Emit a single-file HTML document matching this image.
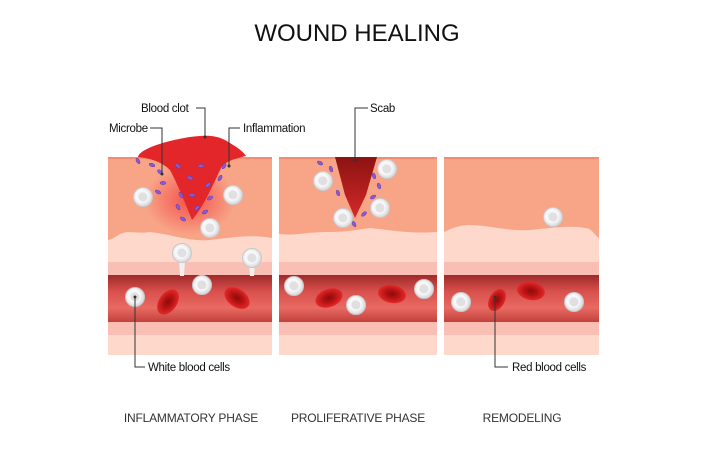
<!DOCTYPE html>
<html><head><meta charset="utf-8"><style>
body{margin:0;background:#fff}
svg{display:block;font-family:"Liberation Sans",sans-serif}
</style></head><body>
<svg width="720" height="450" viewBox="0 0 720 450" xmlns="http://www.w3.org/2000/svg">
<defs>
<linearGradient id="ves" x1="0" y1="0" x2="0" y2="1">
<stop offset="0" stop-color="#9e2a2a"/><stop offset="0.35" stop-color="#d9504c"/><stop offset="0.7" stop-color="#e86a62"/><stop offset="1" stop-color="#c2403c"/></linearGradient>
<radialGradient id="wbc" cx="0.45" cy="0.45" r="0.6"><stop offset="0" stop-color="#e4e4e6"/><stop offset="0.5" stop-color="#fafafa"/><stop offset="1" stop-color="#cfcfd2"/></radialGradient>
<radialGradient id="rbc"><stop offset="0" stop-color="#8e0a0a"/><stop offset="0.5" stop-color="#b81414"/><stop offset="1" stop-color="#e3282a"/></radialGradient>
<radialGradient id="inf" cx="0.5" cy="0.5" r="0.5"><stop offset="0" stop-color="#f23b3b" stop-opacity="0.8"/><stop offset="1" stop-color="#f23b3b" stop-opacity="0"/></radialGradient>
<linearGradient id="scab" x1="0" y1="0" x2="0" y2="1"><stop offset="0" stop-color="#8c1212"/><stop offset="1" stop-color="#d42a2a"/></linearGradient>
<clipPath id="c1"><rect x="108" y="157" width="164" height="198"/></clipPath>
<clipPath id="c2"><rect x="279" y="157" width="158" height="198"/></clipPath>
<clipPath id="c3"><rect x="444" y="157" width="155" height="198"/></clipPath>
<g id="wc"><circle r="9.5" fill="url(#wbc)" stroke="#c8c8cc" stroke-width="1"/><circle r="4.5" fill="#e0e0e3"/></g>
<g id="rc"><ellipse rx="14" ry="9" fill="url(#rbc)"/></g>
</defs>
<text x="357" y="41" text-anchor="middle" font-size="24" fill="#111">WOUND HEALING</text>

<g clip-path="url(#c1)">
<rect x="108" y="157" width="164" height="198" fill="#fdd8cb"/>
<rect x="108" y="262" width="164" height="13" fill="#f9bfb4"/>
<rect x="108" y="322" width="164" height="13" fill="#f9bfb4"/>
<rect x="108" y="275" width="164" height="47" fill="url(#ves)"/>
<path d="M108 157H272V238C250 234 230 238 210 240C190 242 170 234 150 232C135 234 130 230 120 234C114 238 110 240 108 240Z" fill="#f8a487"/>
<ellipse cx="190" cy="200" rx="45" ry="35" fill="url(#inf)"/>
<rect x="108" y="157" width="164" height="2" fill="#f28b70"/>
</g>
<g clip-path="url(#c2)">
<rect x="279" y="157" width="158" height="198" fill="#fdd8cb"/>
<rect x="279" y="262" width="158" height="13" fill="#f9bfb4"/>
<rect x="279" y="322" width="158" height="13" fill="#f9bfb4"/>
<rect x="279" y="275" width="158" height="47" fill="url(#ves)"/>
<path d="M279 157H437V232C410 234 390 230 370 228C355 230 345 232 330 232C305 232 295 236 279 234Z" fill="#f8a487"/>
<rect x="279" y="157" width="158" height="2" fill="#f28b70"/>
</g>
<g clip-path="url(#c3)">
<rect x="444" y="157" width="155" height="198" fill="#fdd8cb"/>
<rect x="444" y="262" width="155" height="13" fill="#f9bfb4"/>
<rect x="444" y="322" width="155" height="13" fill="#f9bfb4"/>
<rect x="444" y="275" width="155" height="47" fill="url(#ves)"/>
<path d="M444 157H599V238C595 236 592 228 585 228C570 225 550 228 530 230C505 232 480 222 460 226C452 228 448 230 444 232Z" fill="#f8a487"/>
<rect x="444" y="157" width="155" height="2" fill="#f28b70"/>
</g>

<path d="M138 157C140 148 170 140 190 137C205 135 215 135 225 140C235 146 242 150 246 156C238 158 228 160 222 166C215 180 205 205 192 220C186 205 178 185 170 170C162 162 150 158 138 157Z" fill="#e3262a"/>
<path d="M335 157H377L366 195L355 218L345 195Z" fill="url(#scab)"/>

<g fill="#8a5ad6" stroke="#5d3aa8" stroke-width="0.5">
<ellipse cx="138" cy="161" rx="3" ry="1.6" transform="rotate(60 138 161)"/>
<ellipse cx="152" cy="165" rx="3" ry="1.6" transform="rotate(20 152 165)"/>
<ellipse cx="160" cy="172" rx="3" ry="1.6" transform="rotate(40 160 172)"/>
<ellipse cx="163" cy="183" rx="3" ry="1.6"/>
<ellipse cx="158" cy="192" rx="3" ry="1.6" transform="rotate(30 158 192)"/>
<ellipse cx="178" cy="166" rx="3" ry="1.6" transform="rotate(40 178 166)"/>
<ellipse cx="190" cy="178" rx="3" ry="1.6" transform="rotate(30 190 178)"/>
<ellipse cx="201" cy="166" rx="3" ry="1.6"/>
<ellipse cx="208" cy="185" rx="3" ry="1.6" transform="rotate(-40 208 185)"/>
<ellipse cx="220" cy="178" rx="3" ry="1.6" transform="rotate(-60 220 178)"/>
<ellipse cx="181" cy="195" rx="3" ry="1.6" transform="rotate(60 181 195)"/>
<ellipse cx="192" cy="195" rx="3" ry="1.6"/>
<ellipse cx="210" cy="198" rx="3" ry="1.6" transform="rotate(-30 210 198)"/>
<ellipse cx="178" cy="207" rx="3" ry="1.6" transform="rotate(60 178 207)"/>
<ellipse cx="197" cy="208" rx="3" ry="1.6" transform="rotate(-50 197 208)"/>
<ellipse cx="205" cy="212" rx="3" ry="1.6" transform="rotate(-30 205 212)"/>
<ellipse cx="183" cy="219" rx="3" ry="1.6" transform="rotate(30 183 219)"/>
<ellipse cx="224" cy="166" rx="3" ry="1.6" transform="rotate(-60 224 166)"/>
<ellipse cx="320" cy="163" rx="3" ry="1.6" transform="rotate(30 320 163)"/>
<ellipse cx="331" cy="169" rx="3" ry="1.6" transform="rotate(70 331 169)"/>
<ellipse cx="338" cy="193" rx="3" ry="1.6" transform="rotate(70 338 193)"/>
<ellipse cx="364" cy="214" rx="3" ry="1.6" transform="rotate(-40 364 214)"/>
<ellipse cx="354" cy="224" rx="3" ry="1.6" transform="rotate(60 354 224)"/>
<ellipse cx="374" cy="176" rx="3" ry="1.6" transform="rotate(70 374 176)"/>
<ellipse cx="379" cy="186" rx="3" ry="1.6" transform="rotate(70 379 186)"/>
<ellipse cx="373" cy="197" rx="3" ry="1.6" transform="rotate(-30 373 197)"/>
</g>

<use href="#wc" x="143" y="197"/><use href="#wc" x="233" y="195"/><use href="#wc" x="210" y="228"/>
<path d="M179 260h6l-1 16h-4z" fill="#f0f0f0"/><path d="M249 264h6l-1 12h-4z" fill="#f0f0f0"/>
<use href="#wc" x="182" y="253"/><use href="#wc" x="252" y="258"/>
<use href="#wc" x="135" y="297"/><use href="#wc" x="202" y="285"/>
<use href="#rc" transform="translate(168 302) rotate(-55)"/>
<use href="#rc" transform="translate(237 298) rotate(35)"/>
<use href="#wc" x="323" y="181"/><use href="#wc" x="387" y="169"/><use href="#wc" x="343" y="218"/><use href="#wc" x="380" y="208"/>
<use href="#wc" x="294" y="286"/><use href="#wc" x="424" y="289"/><use href="#wc" x="356" y="305"/>
<use href="#rc" transform="translate(329 298) rotate(-20)"/>
<use href="#rc" transform="translate(392 294) rotate(10)"/>
<use href="#wc" x="553" y="217"/><use href="#wc" x="461" y="302"/><use href="#wc" x="574" y="302"/>
<use href="#rc" transform="translate(497 300) rotate(-60) scale(0.85)"/>
<use href="#rc" transform="translate(531 291) rotate(10)"/>

<g stroke="#333" stroke-width="1" fill="none">
<path d="M196 108H205V137"/><path d="M150 128H162V174"/><path d="M240 128H229V166"/>
<path d="M368 108H355V160"/><path d="M135 297V367H145"/><path d="M495 297V367H508"/>
</g>
<g fill="#333"><circle cx="205" cy="137" r="1.5"/><circle cx="162" cy="174" r="1.5"/><circle cx="229" cy="166" r="1.5"/><circle cx="355" cy="160" r="1.5"/><circle cx="135" cy="297" r="1.5"/><circle cx="495" cy="297" r="1.5"/></g>
<g font-size="11.5" fill="#111" letter-spacing="-0.3">
<text x="141" y="112">Blood clot</text><text x="109" y="132">Microbe</text><text x="243" y="132">Inflammation</text>
<text x="370" y="112">Scab</text><text x="148" y="371">White blood cells</text><text x="512" y="371">Red blood cells</text>
</g>
<g font-size="12" fill="#333" text-anchor="middle" letter-spacing="-0.2">
<text x="191" y="422">INFLAMMATORY PHASE</text><text x="358" y="422">PROLIFERATIVE PHASE</text><text x="522" y="422">REMODELING</text>
</g>
</svg>
</body></html>
